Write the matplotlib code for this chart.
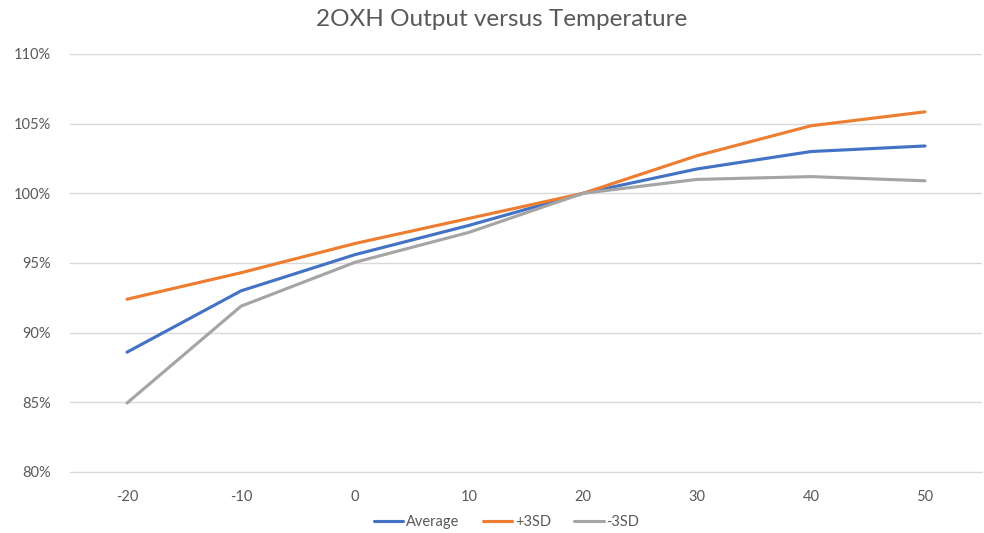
import matplotlib
matplotlib.use("Agg")
import matplotlib.pyplot as plt
from matplotlib.ticker import FuncFormatter

plt.rcParams["font.family"] = ["Lato", "DejaVu Sans"]

# 데이터
temperatures = ["-20", "-10", "0", "10", "20", "30", "40", "50"]
average = [88.6, 93.0, 95.6, 97.7, 100.0, 101.75, 103.0, 103.4]
plus_3sd = [92.4, 94.3, 96.4, 98.2, 100.0, 102.7, 104.85, 105.85]
minus_3sd = [84.95, 91.9, 95.05, 97.2, 100.0, 101.0, 101.2, 100.9]

series = [
    ("Average", average, "#4472C4"),
    ("+3SD", plus_3sd, "#ED7D31"),
    ("-3SD", minus_3sd, "#A5A5A5"),
]

text_color = "#595959"
grid_color = "#D9D9D9"

fig = plt.figure(figsize=(9.84, 5.33), dpi=100)
ax = fig.add_axes([70 / 984, 61 / 533, 912 / 984, 418 / 533])

x = range(len(temperatures))
for label, vals, color in series:
    ax.plot(x, vals, color=color, linewidth=2.25, label=label,
            solid_capstyle="round", solid_joinstyle="round")

ax.set_xlim(-0.5, len(temperatures) - 0.5)
ax.set_ylim(80, 110)
ax.set_yticks(range(80, 111, 5))
ax.yaxis.set_major_formatter(FuncFormatter(lambda v, _: f"{v:.0f}%"))
ax.set_xticks(list(x))
ax.set_xticklabels(temperatures)

ax.grid(axis="y", color=grid_color, linewidth=1)
ax.set_axisbelow(True)
for side in ["top", "right", "left"]:
    ax.spines[side].set_visible(False)
ax.spines["bottom"].set_color(grid_color)
ax.tick_params(axis="both", length=0, colors=text_color, labelsize=10.5)
ax.tick_params(axis="x", pad=13)
ax.tick_params(axis="y", pad=14)

fig.text(0.510, 0.964, "2OXH Output versus Temperature", ha="center", va="center",
         fontsize=17.5, color=text_color)

leg = fig.legend(loc="center", bbox_to_anchor=(0.515, 0.02), ncol=3, frameon=False,
                 fontsize=10.5, handlelength=2.0, handletextpad=0.2, columnspacing=1.6)
for t in leg.get_texts():
    t.set_color(text_color)

fig.savefig("out.png", dpi=100)
plt.close(fig)
